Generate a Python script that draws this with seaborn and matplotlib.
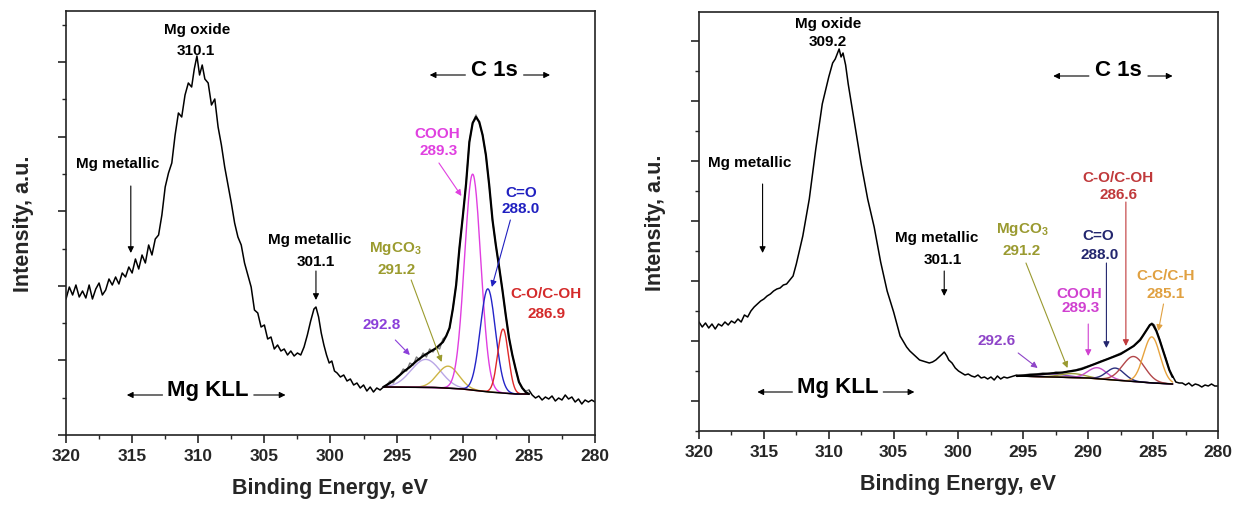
import numpy as np
import matplotlib
matplotlib.use("Agg")
from matplotlib import pyplot as plt
from matplotlib.ticker import MultipleLocator
import seaborn as sns

sns.set_style("ticks")
plt.rcParams['font.family'] = ['Liberation Sans', 'DejaVu Sans']
plt.rcParams['font.weight'] = 'bold'
plt.rcParams['mathtext.fontset'] = 'custom'
plt.rcParams['mathtext.rm'] = 'Liberation Sans:bold'
plt.rcParams['mathtext.bf'] = 'Liberation Sans:bold'
plt.rcParams['mathtext.it'] = 'Liberation Sans:bold'

# ---------------- left sample : raw spectrum (BE in eV, intensity a.u.)
be_a = [320.0, 319.75, 319.5, 319.25, 319.0, 318.75, 318.5, 318.25, 318.0, 317.75,
        317.5, 317.25, 317.0, 316.75, 316.5, 316.25, 316.0, 315.75, 315.5, 315.25,
        315.0, 314.75, 314.5, 314.25, 314.0, 313.75, 313.5, 313.25, 313.0, 312.75,
        312.5, 312.25, 312.0, 311.75, 311.5, 311.25, 311.0, 310.75, 310.5, 310.3,
        310.1, 309.9, 309.7, 309.5, 309.25, 309.0, 308.75, 308.5, 308.25, 308.0,
        307.75, 307.5, 307.25, 307.0, 306.75, 306.5, 306.25, 306.0, 305.75, 305.5,
        305.25, 305.0, 304.75, 304.5, 304.25, 304.0, 303.75, 303.5, 303.25, 303.0,
        302.75, 302.5, 302.25, 302.0, 301.75, 301.5, 301.25, 301.1, 300.9, 300.7,
        300.5, 300.3, 300.1, 299.9, 299.7, 299.5, 299.25, 299.0, 298.75, 298.5,
        298.25, 298.0, 297.75, 297.5, 297.25, 297.0, 296.75, 296.5, 296.25, 296.0,
        295.75, 295.5, 295.25, 295.0, 294.75, 294.5, 294.25, 294.0, 293.75, 293.5,
        293.25, 293.0, 292.75, 292.5, 292.25, 292.0, 291.75, 291.5, 291.25, 291.0,
        290.75, 290.5, 290.25, 290.0, 289.75, 289.5, 289.25, 289.0, 288.75, 288.5,
        288.25, 288.0, 287.75, 287.5, 287.25, 287.0, 286.75, 286.5, 286.25, 286.0,
        285.75, 285.5, 285.25, 285.0, 284.75, 284.5, 284.25, 284.0, 283.75, 283.5,
        283.25, 283.0, 282.75, 282.5, 282.25, 282.0, 281.75, 281.5, 281.25, 281.0,
        280.75, 280.5, 280.25, 280.0]
int_a = [136, 148, 140, 150, 138, 144, 137, 150, 136, 146,
         152, 140, 145, 156, 150, 158, 151, 162, 158, 168,
         162, 176, 166, 180, 172, 190, 180, 196, 200, 220,
         248, 262, 272, 300, 322, 318, 340, 352, 348, 366,
         379, 360, 370, 356, 352, 330, 336, 308, 290, 268,
         250, 232, 212, 198, 190, 172, 160, 148, 125, 122,
         108, 110, 96, 98, 86, 90, 84, 86, 80, 84,
         79, 82, 80, 88, 100, 114, 126, 128, 118, 102,
         90, 80, 72, 74, 64, 62, 58, 60, 54, 56,
         50, 52, 47, 50, 44, 48, 43, 47, 45, 48,
         50, 54, 52, 58, 60, 66, 64, 72, 70, 78,
         75, 82, 78, 86, 83, 88, 86, 96, 99, 107,
         126, 150, 187, 218, 251, 293, 312, 320, 312, 300,
         280, 250, 215, 190, 168, 145, 120, 97, 80, 66,
         53, 47, 44, 45, 40, 37, 39, 35, 38, 36,
         39, 34, 37, 35, 40, 36, 38, 33, 36, 31,
         35, 33, 35, 33]

# left fit envelope and background
env_be_a = [296.0, 295.5, 295.0, 294.5, 294.0, 293.5, 293.0, 292.5, 292.0, 291.5,
            291.25, 291.0, 290.75, 290.5, 290.25, 290.0, 289.75, 289.5, 289.25, 289.0,
            288.75, 288.5, 288.25, 288.0, 287.75, 287.5, 287.25, 287.0, 286.75, 286.5,
            286.25, 286.0, 285.75, 285.5, 285.25, 285.0]
env_int_a = [48, 52, 57, 63, 68, 74, 79, 83, 87, 93,
             99, 107, 126, 150, 187, 218, 251, 293, 312, 318,
             313, 300, 280, 250, 215, 190, 168, 145, 120, 97,
             80, 66, 53, 47, 43, 41]
bg_be_a = [296.0, 292.0, 290.0, 288.0, 286.0, 285.0]
bg_int_a = [48, 47.5, 46, 43, 41, 41]

# left components: centre, height above background, fwhm
comp_name_a = ['292.8', 'MgCO3', 'COOH', 'C=O', 'C-O/C-OH']
comp_pos_a = [292.8, 291.1, 289.25, 288.1, 286.95]
comp_h_a = [28, 22, 216, 103, 64]
comp_w_a = [2.6, 1.9, 1.45, 1.35, 0.95]
comp_col_a = ['#b9a6e6', '#cdb545', '#e03ee0', '#2424c8', '#e02828']

# ---------------- right sample
be_b = [320.0, 319.75, 319.5, 319.25, 319.0, 318.75, 318.5, 318.25, 318.0, 317.75,
        317.5, 317.25, 317.0, 316.75, 316.5, 316.25, 316.0, 315.75, 315.5, 315.25,
        315.0, 314.75, 314.5, 314.25, 314.0, 313.75, 313.5, 313.25, 313.0, 312.75,
        312.5, 312.0, 311.5, 311.0, 310.5, 310.0, 309.7, 309.5, 309.2, 309.05,
        308.9, 308.7, 308.5, 308.0, 307.5, 307.0, 306.5, 306.0, 305.5, 305.0,
        304.5, 304.0, 303.75, 303.5, 303.25, 303.0, 302.75, 302.5, 302.25, 302.0,
        301.75, 301.5, 301.25, 301.1, 300.9, 300.75, 300.5, 300.25, 300.0, 299.75,
        299.5, 299.25, 299.0, 298.75, 298.5, 298.25, 298.0, 297.75, 297.5, 297.25,
        297.0, 296.75, 296.5, 296.25, 296.0, 295.5, 295.0, 294.5, 294.0, 293.5,
        293.0, 292.5, 292.0, 291.5, 291.0, 290.5, 290.0, 289.5, 289.0, 288.5,
        288.0, 287.5, 287.0, 286.5, 286.0, 285.75, 285.5, 285.25, 285.1, 284.9,
        284.75, 284.5, 284.25, 284.0, 283.75, 283.5, 283.25, 283.0, 282.75, 282.5,
        282.25, 282.0, 281.75, 281.5, 281.25, 281.0, 280.75, 280.5, 280.25, 280.0]
int_b = [79, 74, 78, 73, 77, 72, 77, 75, 79, 76,
         80, 78, 82, 79, 86, 84, 90, 94, 97, 100,
         102, 105, 107, 110, 112, 113, 116, 117, 121, 125,
         137, 165, 202, 252, 297, 324, 338, 342, 352, 344,
         348, 336, 317, 277, 237, 202, 174, 139, 110, 89,
         65, 54, 50, 47, 44, 41, 40, 39, 38, 39,
         41, 44, 47, 49, 45, 41, 38, 33, 30, 28,
         26, 27, 25, 24, 26, 23, 24, 22, 24, 21,
         25, 22, 24, 23, 24, 26, 26, 27, 27, 28,
         27, 29, 28, 30, 31, 33, 35, 37, 40, 42,
         45, 48, 51, 55, 62, 66, 71, 76, 78, 76,
         71, 62, 51, 42, 31, 25, 19, 18, 18, 16,
         18, 15, 17, 16, 14, 16, 15, 17, 15, 15]

env_be_b = [295.5, 294.0, 293.0, 292.0, 291.0, 290.5, 290.0, 289.5, 289.0, 288.5,
            288.0, 287.5, 287.0, 286.5, 286.0, 285.75, 285.5, 285.25, 285.1, 285.0,
            284.75, 284.5, 284.25, 284.0, 283.75, 283.5]
env_int_b = [25, 26.5, 27.5, 28.5, 30.5, 32, 34.5, 37, 39.5, 42,
             44.5, 47, 51, 55, 61, 66, 71, 76, 77, 76,
             70, 61, 51, 41, 31, 24]
bg_be_b = [295.5, 290.0, 287.0, 285.0, 283.5]
bg_int_b = [25, 23, 20, 18, 17]

comp_name_b = ['292.6', 'MgCO3', 'COOH', 'C=O', 'C-O/C-OH', 'C-C/C-H']
comp_pos_b = [292.6, 291.2, 289.3, 287.9, 286.5, 285.1]
comp_h_b = [3, 4, 11, 12, 25, 46]
comp_w_b = [2.5, 2.2, 1.7, 1.6, 2.0, 1.5]
comp_col_b = ['#8a4cc8', '#9c9c3a', '#c84fc8', '#2b2f7e', '#b3474a', '#e7a33e']


def peak(x, c, h, w):
    return h * np.exp(-4 * np.log(2) * ((x - c) / w) ** 2)


def draw_panel(ax, be, inten, env_be, env_int, bg_be, bg_int,
               pos, hgt, wid, cols):
    be = np.array(be)
    inten = np.array(inten)
    lo, hi = min(bg_be), max(bg_be)
    inner = (be >= lo) & (be <= hi)
    left = be >= hi
    right = be <= lo
    sns.lineplot(x=be[left], y=inten[left], ax=ax, color='k', lw=1.1)
    sns.lineplot(x=be[right], y=inten[right], ax=ax, color='k', lw=1.1)
    sns.lineplot(x=be[inner], y=inten[inner], ax=ax, color='#7a7a7a', lw=1.0)
    xg = np.linspace(hi, lo, 300)
    base = np.interp(xg, bg_be[::-1], bg_int[::-1])
    for c, h, w, col in zip(pos, hgt, wid, cols):
        sns.lineplot(x=xg, y=base + peak(xg, c, h, w), ax=ax, color=col, lw=1.0)
    sns.lineplot(x=bg_be, y=bg_int, ax=ax, color='k', lw=1.1)
    sns.lineplot(x=env_be, y=env_int, ax=ax, color='k', lw=1.6)


def arrow(ax, x0, y0, x1, y1, col, head=None):
    ax.annotate('', xy=(x1, y1), xytext=(x0, y0),
                arrowprops=dict(arrowstyle='-|>', color=head or col, lw=0.8,
                                mutation_scale=9, shrinkA=0, shrinkB=0))


def label(ax, x, y, s, col='k', size=11):
    ax.text(x, y, s, color=col, fontsize=size, fontweight='bold',
            ha='center', va='center')


fig = plt.figure(figsize=(12.41, 5.06), dpi=100)
ax1 = fig.add_axes([66 / 1241, 70 / 506, 529 / 1241, 424 / 506])
ax2 = fig.add_axes([699 / 1241, 74 / 506, 519 / 1241, 419 / 506])

draw_panel(ax1, be_a, int_a, env_be_a, env_int_a, bg_be_a, bg_int_a,
           comp_pos_a, comp_h_a, comp_w_a, comp_col_a)
draw_panel(ax2, be_b, int_b, env_be_b, env_int_b, bg_be_b, bg_int_b,
           comp_pos_b, comp_h_b, comp_w_b, comp_col_b)

for ax, ymin, ymax, step in [(ax1, 0, 424, 74.6), (ax2, -30, 389, 60)]:
    ax.set_xlim(320, 280)
    ax.set_ylim(ymin, ymax)
    ax.xaxis.set_major_locator(MultipleLocator(5))
    ax.xaxis.set_minor_locator(MultipleLocator(2.5))
    ax.yaxis.set_major_locator(MultipleLocator(step))
    ax.yaxis.set_minor_locator(MultipleLocator(step / 2))
    ax.tick_params(axis='both', which='major', direction='out', length=6, width=1.2,
                   labelsize=12.5, top=False, right=False)
    ax.tick_params(axis='both', which='minor', direction='out', length=3, width=1.0,
                   top=False, right=False)
    ax.tick_params(axis='y', labelleft=False)
    for lab in ax.get_xticklabels():
        lab.set_fontweight('bold')
    for sp in ax.spines.values():
        sp.set_visible(True)
        sp.set_linewidth(1.2)
        sp.set_color('#222222')
    ax.set_xlabel('Binding Energy, eV', fontsize=15.5, fontweight='bold', labelpad=10)
    ax.set_ylabel('Intensity, a.u.', fontsize=15.5, fontweight='bold', labelpad=17)

mg = r'MgCO$_{\mathbf{3}}$'

# ---- left annotations
label(ax1, 310.1, 406, 'Mg oxide')
label(ax1, 310.15, 385, '310.1')
label(ax1, 316.1, 272, 'Mg metallic')
arrow(ax1, 315.1, 249, 315.1, 182, '#888888', 'k')
label(ax1, 301.6, 196, 'Mg metallic')
label(ax1, 301.1, 174, '301.1')
arrow(ax1, 301.1, 164, 301.1, 135, '#888888', 'k')
label(ax1, 287.6, 366, 'C 1s', size=16)
arrow(ax1, 289.8, 360, 292.5, 360, '#555555', 'k')
arrow(ax1, 285.4, 360, 283.4, 360, '#555555', 'k')
label(ax1, 309.25, 45, 'Mg KLL', size=16)
arrow(ax1, 312.7, 40, 315.4, 40, '#555555', 'k')
arrow(ax1, 305.8, 40, 303.4, 40, '#555555', 'k')
label(ax1, 291.9, 302, 'COOH', '#e040e0')
label(ax1, 291.85, 285, '289.3', '#e040e0')
arrow(ax1, 291.8, 272, 290.1, 239, '#e070e0', '#e040e0')
label(ax1, 285.6, 243, 'C=O', '#2020c0')
label(ax1, 285.6, 227, '288.0', '#2020c0')
arrow(ax1, 286.4, 215, 287.8, 148, '#4a4ad0', '#2020c0')
label(ax1, 283.7, 142, 'C-O/C-OH', '#d42a2a')
label(ax1, 283.7, 122, '286.9', '#d42a2a')
label(ax1, 295.1, 187, mg, '#9b9b2e')
label(ax1, 295.0, 166, '291.2', '#9b9b2e')
arrow(ax1, 293.9, 155, 291.6, 73, '#a8a860', '#9b9b2e')
label(ax1, 296.1, 111, '292.8', '#8b3fd9')
arrow(ax1, 295.1, 95, 294.0, 80, '#9a60dd', '#8b3fd9')

# ---- right annotations
label(ax2, 310.05, 378, 'Mg oxide')
label(ax2, 310.05, 360, '309.2')
label(ax2, 316.1, 239, 'Mg metallic')
arrow(ax2, 315.1, 217, 315.1, 148, '#888888', 'k')
label(ax2, 301.7, 164, 'Mg metallic')
label(ax2, 301.2, 142, '301.1')
arrow(ax2, 301.1, 130, 301.1, 105, '#888888', 'k')
label(ax2, 287.7, 332, 'C 1s', size=16)
arrow(ax2, 289.95, 325, 292.7, 325, '#555555', 'k')
arrow(ax2, 285.4, 325, 283.5, 325, '#555555', 'k')
label(ax2, 309.3, 15, 'Mg KLL', size=16)
arrow(ax2, 312.8, 9, 315.5, 9, '#555555', 'k')
arrow(ax2, 305.8, 9, 303.4, 9, '#555555', 'k')
label(ax2, 295.1, 172, mg, '#9a9a30')
label(ax2, 295.1, 151, '291.2', '#9a9a30')
arrow(ax2, 294.8, 138, 291.6, 33, '#a8a860', '#9a9a30')
label(ax2, 289.2, 166, 'C=O', '#23266e')
label(ax2, 289.1, 147, '288.0', '#23266e')
arrow(ax2, 288.6, 138, 288.6, 53, '#4a4e90', '#23266e')
label(ax2, 287.7, 224, 'C-O/C-OH', '#c0393b')
label(ax2, 287.7, 207, '286.6', '#c0393b')
arrow(ax2, 287.1, 199, 287.1, 55, '#c87070', '#c0393b')
label(ax2, 290.7, 108, 'COOH', '#d040d0')
label(ax2, 290.6, 94, '289.3', '#d040d0')
arrow(ax2, 290.0, 77, 290.0, 45, '#d070d0', '#d040d0')
label(ax2, 284.0, 126, 'C-C/C-H', '#e0a040')
label(ax2, 284.0, 108, '285.1', '#e0a040')
arrow(ax2, 284.2, 97, 284.6, 70, '#e8b870', '#e0a040')
label(ax2, 297.1, 61, '292.6', '#8e44c8')
arrow(ax2, 295.4, 48, 293.9, 33, '#a070d0', '#8e44c8')

fig.savefig('out.png', dpi=100)
